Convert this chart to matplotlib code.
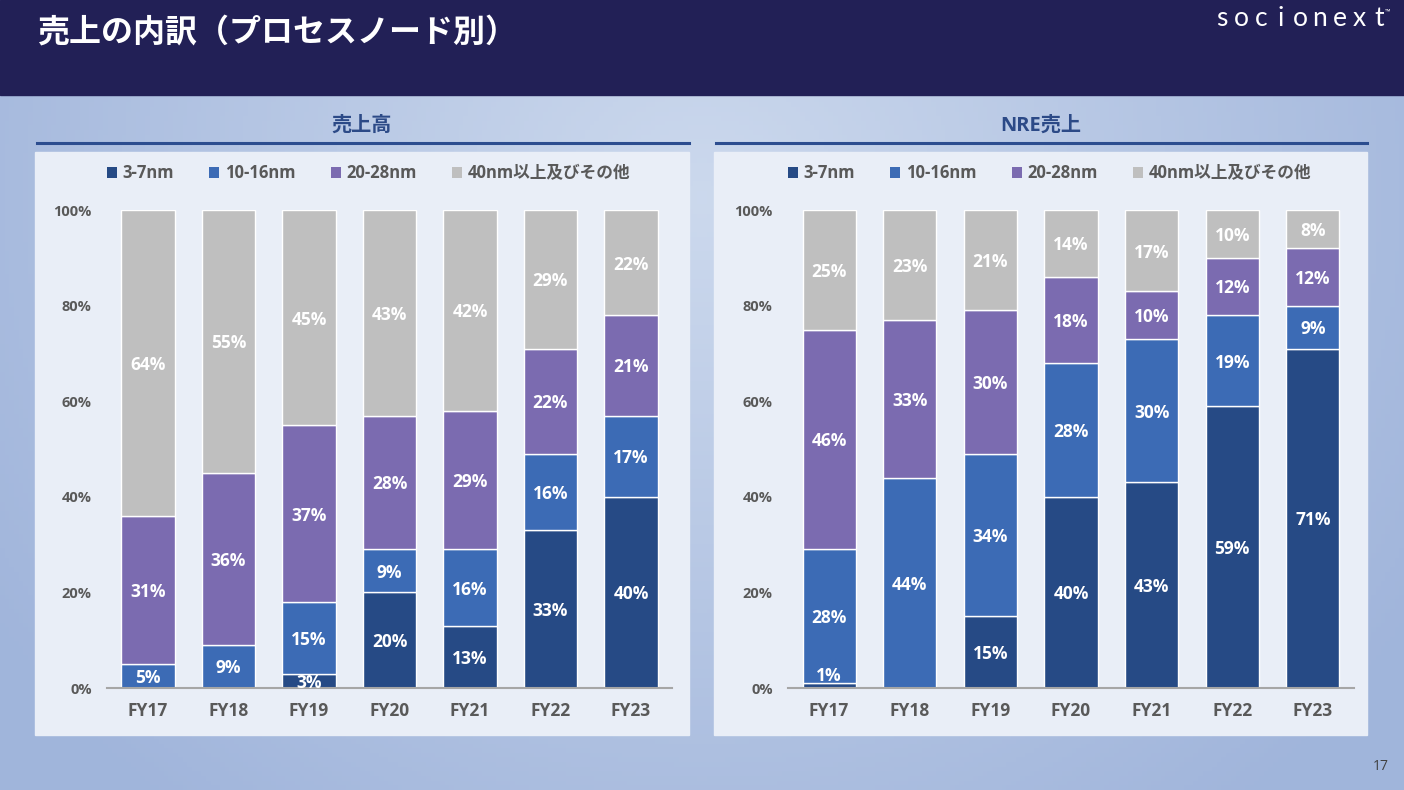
import numpy as np
import matplotlib.pyplot as plt
from matplotlib.patches import Rectangle
from matplotlib.lines import Line2D

plt.rcParams['font.family'] = ['Open Sans', 'Noto Sans CJK JP', 'DejaVu Sans']

years = ["FY17", "FY18", "FY19", "FY20", "FY21", "FY22", "FY23"]
nodes = ["3-7nm", "10-16nm", "20-28nm", "40nm以上及びその他"]
colors = ["#264a85", "#3c6bb5", "#7b6bb0", "#bfbfbf"]

# 売上高 (%)
sales_3_7 = [0, 0, 3, 20, 13, 33, 40]
sales_10_16 = [5, 9, 15, 9, 16, 16, 17]
sales_20_28 = [31, 36, 37, 28, 29, 22, 21]
sales_40 = [64, 55, 45, 43, 42, 29, 22]

# NRE売上 (%)
nre_3_7 = [1, 0, 15, 40, 43, 59, 71]
nre_10_16 = [28, 44, 34, 28, 30, 19, 9]
nre_20_28 = [46, 33, 30, 18, 10, 12, 12]
nre_40 = [25, 23, 21, 14, 17, 10, 8]

W, H = 1404, 790
GRAY = "#595959"


def fx(px):
    return px / W


def fy(py):
    return 1 - py / H


def draw_panel(ax, series):
    x = np.arange(len(years))
    bottom = np.zeros(len(years))
    for vals, name, color in zip(series, nodes, colors):
        vals = np.array(vals, dtype=float)
        ax.bar(x, vals, 0.66, bottom=bottom, color=color, edgecolor="white",
               linewidth=1, label=name)
        for xi, v, b in zip(x, vals, bottom):
            if v <= 0:
                continue
            y = b + v / 2 if v >= 2 else b + v + 2
            ax.text(xi, y, f"{v:.0f}%", ha="center", va="center_baseline",
                    color="white", fontsize=12.5, fontweight="bold")
        bottom += vals

    ax.set_xlim(-0.51, 6.51)
    ax.set_ylim(0, 100)
    ax.set_yticks([0, 20, 40, 60, 80, 100])
    ax.set_yticklabels([f"{t}%" for t in [0, 20, 40, 60, 80, 100]])
    ax.set_xticks(x)
    ax.set_xticklabels(years)
    ax.tick_params(axis="y", length=0, pad=11, labelsize=10.5, labelcolor=GRAY)
    ax.tick_params(axis="x", length=0, pad=10, labelsize=12.5, labelcolor=GRAY)
    for lab in ax.get_xticklabels() + ax.get_yticklabels():
        lab.set_fontweight("bold")
    for s in ["top", "right", "left"]:
        ax.spines[s].set_visible(False)
    ax.spines["bottom"].set_color("#a6a6a6")
    ax.spines["bottom"].set_linewidth(1.5)
    ax.patch.set_alpha(0)

    leg = ax.legend(ncol=4, loc="center left", bbox_to_anchor=(0.0, 1.077),
                    frameon=False, borderaxespad=0, borderpad=0,
                    handlelength=0.6, handleheight=0.6, handletextpad=0.35,
                    columnspacing=2.1, prop={"size": 12, "weight": "bold"})
    for t in leg.get_texts():
        t.set_color(GRAY)
    for h in leg.legend_handles:
        h.set_edgecolor("none")


fig = plt.figure(figsize=(W / 100, H / 100), dpi=100)

# background gradient
bg = fig.add_axes([0, 0, 1, 1], zorder=-10)
xx, yy = np.meshgrid(np.linspace(0, 1, 300), np.linspace(0, 1, 170))
d = np.sqrt(((xx - 0.5) / 0.6) ** 2 + ((yy - 0.25) / 1.0) ** 2)
d = np.clip(d, 0, 1)
c_in = np.array([0.80, 0.85, 0.93])
c_out = np.array([0.63, 0.71, 0.86])
img = c_in[None, None, :] * (1 - d[..., None]) + c_out[None, None, :] * d[..., None]
bg.imshow(img, aspect="auto", extent=[0, 1, 0, 1])
bg.set_axis_off()

# header band
fig.add_artist(Rectangle((0, fy(95)), 1, 95 / H, transform=fig.transFigure,
                         color="#222056", zorder=-5))
fig.text(fx(37), fy(33), "売上の内訳（プロセスノード別）", color="white",
         fontsize=23, fontweight="bold", va="center", ha="left")

# logo
logo = "socionext"
for i, ch in enumerate(logo):
    fig.text(fx(1222 + i * 19.6), fy(18), ch, color="white", fontsize=19,
             family=["Lato", "DejaVu Sans"], fontweight="normal",
             ha="center", va="center")
fig.text(fx(1385), fy(12), "™", color="white", fontsize=5, va="center")

fig.text(fx(1381), fy(767), "17", color="#404040", fontsize=10,
         ha="center", va="center")

# panels
panels = [(35, 689, "売上高"), (714, 1367, "NRE売上")]
for x0, x1, title in panels:
    fig.add_artist(Rectangle((fx(x0), fy(735)), fx(x1 - x0), (735 - 152) / H,
                             transform=fig.transFigure, color="#e9eef7",
                             zorder=-5))
    fig.add_artist(Line2D([fx(x0 + 2), fx(x1)], [fy(143), fy(143)],
                          transform=fig.transFigure, color="#2c4d8f",
                          linewidth=2.2, zorder=-4))
    fig.text(fx((x0 + x1) / 2), fy(126), title, color="#2c4a87", fontsize=14.5,
             fontweight="bold", ha="center", va="center")

ax1 = fig.add_axes([fx(107), fy(688), fx(672 - 107), (688 - 210) / H])
ax2 = fig.add_axes([fx(788), fy(688), fx(1354 - 788), (688 - 210) / H])

draw_panel(ax1, [sales_3_7, sales_10_16, sales_20_28, sales_40])
draw_panel(ax2, [nre_3_7, nre_10_16, nre_20_28, nre_40])

fig.savefig("out.png", dpi=100)
